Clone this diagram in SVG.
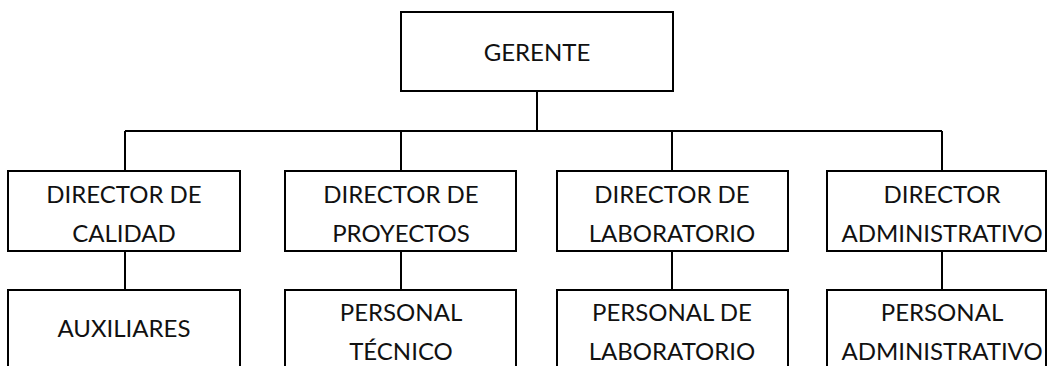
<svg xmlns="http://www.w3.org/2000/svg" width="1047" height="366" viewBox="0 0 1047 366">
<style>
.box{fill:#fff;stroke:#000;stroke-width:2}
.con{fill:none;stroke:#000;stroke-width:2}
text{font-family:Lato,"Open Sans",sans-serif;font-size:24px;fill:#111;text-anchor:middle}
</style>
<rect width="1047" height="366" fill="#fff"/>
<g id="connectors">
<path class="con" d="M537 91V131M125 131H942M125 131V171M401 131V171M672 131V171M942 131V171"/>
<path class="con" d="M125 251V290M401 251V290M672 251V290M942 251V290"/>
</g>
<g id="gerente"><rect class="box" x="401" y="12" width="272" height="79"/><text x="537" y="61">GERENTE</text></g>
<g id="dir-calidad"><rect class="box" x="8" y="171" width="232" height="80"/><text x="124" y="203">DIRECTOR DE</text><text x="124" y="242">CALIDAD</text></g>
<g id="dir-proyectos"><rect class="box" x="285" y="171" width="231" height="80"/><text x="401" y="203">DIRECTOR DE</text><text x="401" y="242">PROYECTOS</text></g>
<g id="dir-laboratorio"><rect class="box" x="557" y="171" width="231" height="80"/><text x="672" y="203">DIRECTOR DE</text><text x="672" y="242">LABORATORIO</text></g>
<g id="dir-administrativo"><rect class="box" x="827" y="171" width="219" height="80"/><text x="942" y="203">DIRECTOR</text><text x="942" y="242">ADMINISTRATIVO</text></g>
<g id="auxiliares"><rect class="box" x="8" y="290" width="232" height="90"/><text x="124" y="337">AUXILIARES</text></g>
<g id="personal-tecnico"><rect class="box" x="285" y="290" width="231" height="90"/><text x="401" y="321">PERSONAL</text><text x="401" y="360">TÉCNICO</text></g>
<g id="personal-laboratorio"><rect class="box" x="557" y="290" width="231" height="90"/><text x="672" y="321">PERSONAL DE</text><text x="672" y="360">LABORATORIO</text></g>
<g id="personal-administrativo"><rect class="box" x="827" y="290" width="219" height="90"/><text x="942" y="321">PERSONAL</text><text x="942" y="360">ADMINISTRATIVO</text></g>
</svg>
